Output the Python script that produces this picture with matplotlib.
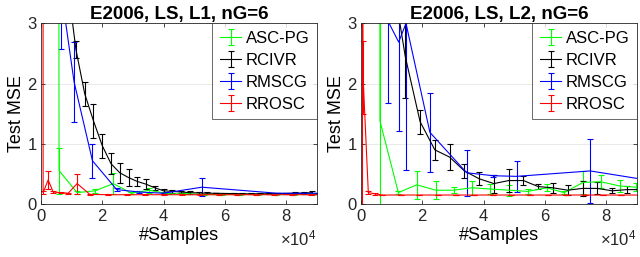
import numpy as np
import matplotlib
matplotlib.use('Agg')
import matplotlib.pyplot as plt

plt.rcParams['font.family'] = ['Liberation Sans', 'DejaVu Sans']
plt.rcParams['mathtext.default'] = 'regular'

# ---- left panel (L1) ----
green_x_L = [0, 5900, 11800, 17700, 23600, 29500, 35400, 41300, 47200, 53100, 59000, 64900, 70800, 76700, 82600, 88500]
green_y_L = [400, 0.555, 0.19, 0.22, 0.34, 0.18, 0.23, 0.17, 0.17, 0.16, 0.16, 0.16, 0.16, 0.16, 0.17, 0.17]
green_e_L = [0, 0.38, 0.02, 0.03, 0.17, 0.02, 0.04, 0.01, 0.01, 0.01, 0.01, 0.01, 0.01, 0.01, 0.02, 0.02]

black_x_L = [i * 2857 for i in range(32)]
black_y_L = [30, 12, 6, 3.7, 2.56, 1.83, 1.38, 0.97, 0.67, 0.52, 0.44, 0.375, 0.33, 0.27, 0.22, 0.21,
             0.2, 0.19, 0.185, 0.18, 0.18, 0.175, 0.175, 0.17, 0.17, 0.17, 0.17, 0.175, 0.175, 0.18, 0.18, 0.19]
black_e_L = [0, 0, 0, 0, 0.14, 0.2, 0.28, 0.2, 0.17, 0.17, 0.14, 0.08, 0.08, 0.03, 0.03, 0.03,
             0.02, 0.02, 0.015, 0.015, 0.01, 0.01, 0.01, 0.01, 0.01, 0.01, 0.01, 0.01, 0.01, 0.015, 0.015, 0.03]

blue_x_L = [0, 6700, 10800, 16800, 24700, 32000, 40000, 52500, 77000, 90500]
blue_y_L = [40, 3.5, 2.03, 0.72, 0.24, 0.2, 0.18, 0.28, 0.18, 0.18]
blue_e_L = [0, 0.92, 0.66, 0.28, 0.03, 0.01, 0.02, 0.15, 0.01, 0.01]

red_x_L = [0, 700, 2350, 4000, 6400, 8900, 11800, 16000, 22000, 28000, 34000, 40000, 46000, 52000,
           58000, 64000, 70000, 76000, 82000, 88000, 94000]
red_y_L = [200, 0.19, 0.40, 0.2, 0.19, 0.18, 0.34, 0.16, 0.155, 0.155, 0.155, 0.155, 0.155, 0.155,
           0.155, 0.155, 0.155, 0.155, 0.155, 0.155, 0.155]
red_e_L = [0, 0.02, 0.15, 0.02, 0.01, 0.01, 0.165, 0.01, 0.005, 0.005, 0.005, 0.005, 0.005, 0.005,
           0.005, 0.005, 0.005, 0.005, 0.005, 0.005, 0.005]

# ---- right panel (L2) ----
green_x_R = [0, 6200, 12200, 18200, 24400, 30200, 36200, 42200, 48400, 54400, 60600, 66300, 72500, 78300, 84400, 89800]
green_y_R = [400, 1.38, 0.19, 0.32, 0.23, 0.23, 0.27, 0.25, 0.23, 0.21, 0.27, 0.19, 0.36, 0.37, 0.3, 0.28]
green_e_R = [0, 6, 0.03, 0.23, 0.15, 0.05, 0.12, 0.09, 0.09, 0.04, 0.06, 0.03, 0.19, 0.11, 0.1, 0.07]

black_x_R = [i * 4820 for i in range(20)]
black_y_R = [40, 15, 3.96, 2.45, 1.37, 0.9, 0.78, 0.55, 0.42, 0.34, 0.39, 0.39, 0.29, 0.27, 0.23,
             0.26, 0.26, 0.22, 0.24, 0.24]
black_e_R = [0, 0, 0, 0.69, 0.2, 0.17, 0.22, 0.12, 0.11, 0.15, 0.19, 0.08, 0.04, 0.08, 0.08,
             0.12, 0.1, 0.04, 0.06, 0.05]

blue_x_R = [0, 8700, 12300, 14700, 22500, 34500, 43200, 50800, 74800, 92000]
blue_y_R = [40, 3.05, 2.69, 3.0, 1.19, 0.52, 0.47, 0.46, 0.55, 0.41]
blue_e_R = [0, 1.37, 1.47, 2.43, 0.66, 0.38, 0.02, 0.26, 0.53, 0.05]

red_x_R = [0, 300, 700, 2400, 4600, 7000, 13000, 19000, 25000, 31000, 37000, 43000, 49000, 55000,
           61000, 67000, 73000, 79000, 85000, 91000]
red_y_R = [200, 8, 2.1, 0.19, 0.17, 0.15, 0.15, 0.15, 0.15, 0.15, 0.15, 0.15, 0.15, 0.15,
           0.15, 0.15, 0.15, 0.15, 0.15, 0.15]
red_e_R = [0, 10, 0.6, 0.02, 0.02, 0.005, 0.005, 0.005, 0.005, 0.005, 0.005, 0.005, 0.005, 0.005,
           0.005, 0.005, 0.005, 0.005, 0.005, 0.005]

titles = ['E2006, LS, L1, nG=6', 'E2006, LS, L2, nG=6']
labels = ['ASC-PG', 'RCIVR', 'RMSCG', 'RROSC']
colors = ['#00ff00', 'black', '#0000ff', '#ff0000']

panels = [
    [(green_x_L, green_y_L, green_e_L), (black_x_L, black_y_L, black_e_L),
     (blue_x_L, blue_y_L, blue_e_L), (red_x_L, red_y_L, red_e_L)],
    [(green_x_R, green_y_R, green_e_R), (black_x_R, black_y_R, black_e_R),
     (blue_x_R, blue_y_R, blue_e_R), (red_x_R, red_y_R, red_e_R)],
]

fig = plt.figure(figsize=(6.4, 2.57), dpi=100)
axes = [fig.add_axes([0.064, 0.206, 0.431, 0.703]),
        fig.add_axes([0.564, 0.206, 0.431, 0.703])]

edge = '#262626'
for ax, series, title in zip(axes, panels, titles):
    for (x, y, e), lab, c in zip(series, labels, colors):
        ax.errorbar(x, y, yerr=e, color=c, lw=0.8, elinewidth=0.8,
                    capsize=2, capthick=0.8, label=lab)
    ax.set_xlim(0, 90000)
    ax.set_ylim(0, 3)
    ax.set_yticks([0, 1, 2, 3])
    ax.set_xticks([0, 20000, 40000, 60000, 80000])
    ax.ticklabel_format(axis='x', style='sci', scilimits=(4, 4), useMathText=True)
    ax.yaxis.grid(True, color='#e6e6e6', lw=0.6)
    ax.set_axisbelow(True)
    ax.tick_params(direction='in', top=True, right=True, length=3, width=0.6,
                   labelsize=12, colors=edge, pad=3)
    for s in ax.spines.values():
        s.set_color(edge)
        s.set_linewidth(0.6)
    ax.xaxis.get_offset_text().set_fontsize(12)
    ax.set_title(title, fontsize=13.5, fontweight='bold', pad=3)
    ax.set_xlabel('#Samples', fontsize=13, labelpad=2)
    ax.set_ylabel('Test MSE', fontsize=13, labelpad=2)
    leg = ax.legend(loc='upper right', fontsize=12, frameon=True, fancybox=False,
                    borderaxespad=0, handlelength=1.3, handletextpad=0.25,
                    labelspacing=0.42, borderpad=0.45)
    leg.get_frame().set_edgecolor(edge)
    leg.get_frame().set_linewidth(0.6)

fig.savefig('out.png', dpi=100)
